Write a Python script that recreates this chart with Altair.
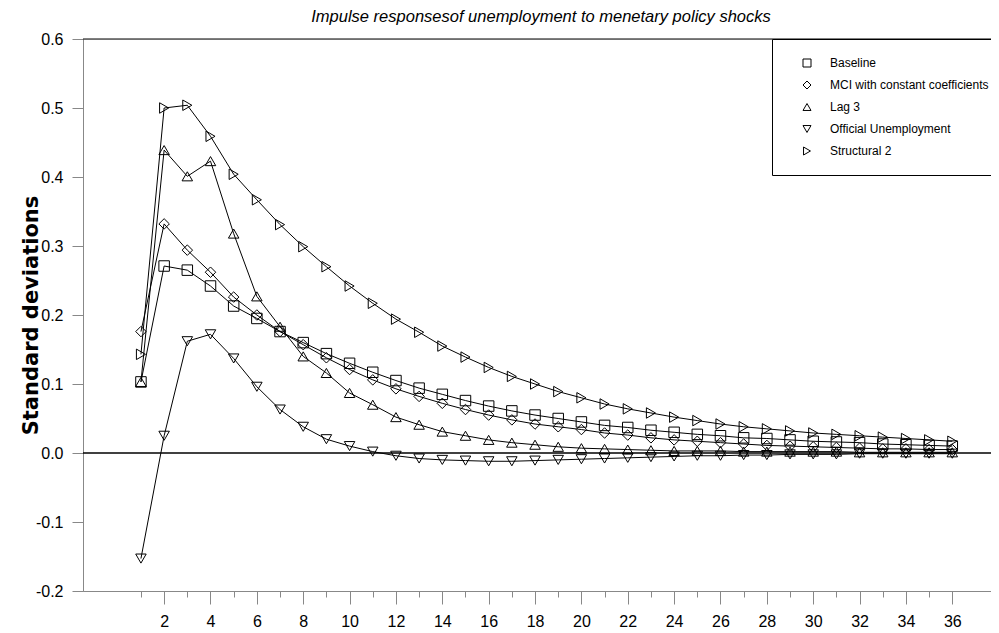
import altair as alt
import pandas as pd

horizon = list(range(1, 37))
major_ticks = list(range(2, 37, 2))
minor_ticks = list(range(1, 37, 2))

series_names = ["Baseline", "MCI with constant coefficients", "Lag 3",
                "Official Unemployment", "Structural 2"]
series_shapes = ["square", "diamond", "triangle-up", "triangle-down", "triangle-right"]

baseline = [0.103, 0.271, 0.265, 0.242, 0.213, 0.195, 0.176, 0.160, 0.144, 0.130,
            0.117, 0.105, 0.094, 0.085, 0.076, 0.068, 0.061, 0.055, 0.050, 0.045,
            0.040, 0.037, 0.033, 0.030, 0.027, 0.025, 0.022, 0.021, 0.019, 0.017,
            0.016, 0.015, 0.013, 0.012, 0.011, 0.010]
mci = [0.176, 0.332, 0.294, 0.262, 0.226, 0.200, 0.176, 0.157, 0.138, 0.121,
       0.106, 0.093, 0.082, 0.072, 0.063, 0.055, 0.048, 0.042, 0.038, 0.034,
       0.029, 0.026, 0.022, 0.019, 0.017, 0.015, 0.013, 0.011, 0.010, 0.009,
       0.008, 0.007, 0.006, 0.006, 0.005, 0.005]
lag3 = [0.103, 0.439, 0.401, 0.423, 0.318, 0.227, 0.183, 0.140, 0.116, 0.087,
        0.070, 0.052, 0.041, 0.031, 0.025, 0.019, 0.015, 0.012, 0.009, 0.007,
        0.006, 0.005, 0.004, 0.003, 0.003, 0.003, 0.002, 0.002, 0.002, 0.002,
        0.002, 0.001, 0.001, 0.001, 0.001, 0.001]
official = [-0.153, 0.025, 0.162, 0.172, 0.137, 0.096, 0.063, 0.038, 0.020, 0.010,
            0.002, -0.004, -0.008, -0.010, -0.011, -0.012, -0.012, -0.011, -0.010, -0.009,
            -0.008, -0.007, -0.006, -0.005, -0.004, -0.004, -0.003, -0.003, -0.002, -0.002,
            -0.002, -0.001, -0.001, -0.001, -0.001, -0.001]
structural2 = [0.143, 0.500, 0.504, 0.459, 0.404, 0.367, 0.331, 0.299, 0.270, 0.242,
               0.217, 0.194, 0.175, 0.155, 0.139, 0.124, 0.111, 0.100, 0.089, 0.080,
               0.071, 0.064, 0.058, 0.052, 0.047, 0.042, 0.038, 0.035, 0.032, 0.029,
               0.027, 0.025, 0.023, 0.021, 0.019, 0.017]

y_ticks = [-0.2, -0.1, 0.0, 0.1, 0.2, 0.3, 0.4, 0.5, 0.6]

title_text = "Impulse responsesof unemployment to menetary policy shocks"
y_title = "Standard deviations"

all_series = [baseline, mci, lag3, official, structural2]
rows = []
for name, vals in zip(series_names, all_series):
    for h, v in zip(horizon, vals):
        rows.append({"horizon": h, "value": v, "series": name})
df = pd.DataFrame(rows)

FONT = "Liberation Sans, Arial, sans-serif"
x_scale = alt.Scale(domain=[-1.5, 37.67], nice=False, zero=False)

x_major = alt.X(
    "horizon:Q", scale=x_scale,
    axis=alt.Axis(
        orient="bottom", values=major_ticks, tickSize=13, title=None, grid=False,
        labelFlush=False, labelOverlap=False, labelPadding=9,
        labelFont=FONT, labelFontSize=16,
    ),
)
x_minor = alt.X(
    "horizon:Q", scale=x_scale,
    axis=alt.Axis(
        orient="bottom", values=minor_ticks, tickSize=6, title=None, grid=False,
        labels=False,
    ),
)
y_enc = alt.Y(
    "value:Q",
    scale=alt.Scale(domain=[-0.2, 0.6], nice=False, zero=False),
    axis=alt.Axis(
        values=y_ticks, format=".1f",
        labelExpr="replace(datum.label, '\u2212', '-')",
        tickSize=11, labelPadding=9, grid=False,
        labelFont=FONT, labelFontSize=16,
        title=y_title, titleFont="DejaVu Sans", titleFontSize=21, titleFontWeight="bold",
        titleAngle=270, titleX=-52, titleY=276, titleAlign="center", titleBaseline="middle",
    ),
)

base = alt.Chart(df)
lines = base.mark_line(color="black", strokeWidth=1).encode(
    x=x_major, y=y_enc, detail="series:N"
)
points = base.mark_point(filled=False, color="black", strokeWidth=1, size=110, opacity=1).encode(
    x=x_minor,
    y="value:Q",
    shape=alt.Shape(
        "series:N",
        scale=alt.Scale(domain=series_names, range=series_shapes),
        legend=alt.Legend(
            title=None, orient="none", legendX=689, legendY=0,
            strokeColor="black", fillColor="white", padding=18,
            symbolOffset=11, labelOffset=17, rowPadding=10,
            symbolSize=64, symbolStrokeWidth=1, symbolStrokeColor="black",
            labelFont=FONT, labelFontSize=12, labelColor="black",
            labelLimit=400,
        ),
    ),
)
zero_rule = alt.Chart(pd.DataFrame({"v": [0.0]})).mark_rule(color="black", strokeWidth=1.3).encode(
    y="v:Q"
)
top_rule = alt.Chart(pd.DataFrame({"v": [0.6]})).mark_rule(color="black", strokeWidth=1).encode(
    y="v:Q"
)

chart = alt.layer(zero_rule, top_rule, lines, points).resolve_axis(
    x="independent"
).properties(
    width=908,
    height=552,
    autosize=alt.AutoSizeParams(type="none"),
    padding={"left": 75, "top": 31, "right": 0, "bottom": 40},
    title=alt.TitleParams(
        title_text, font=FONT, fontSize=16.5, fontStyle="italic", fontWeight="normal",
        anchor="middle", offset=6, dx=4, color="black",
    ),
).configure_view(stroke=None).configure_axis(
    domainColor="black", tickColor="#222", labelColor="black", titleColor="black",
    domainWidth=1, tickWidth=1,
).configure(background="white")

chart.save("out.html", embed_options={"renderer": "svg", "actions": False})
